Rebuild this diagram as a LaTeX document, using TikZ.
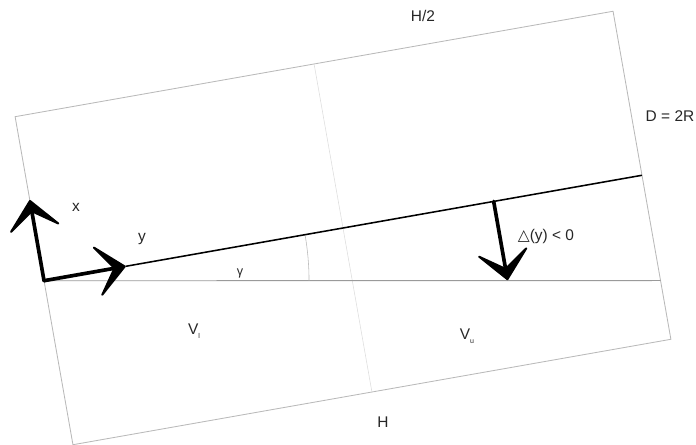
\documentclass[tikz,border=0pt]{standalone}
\usepackage{fontspec}
\setmainfont{Liberation Sans}
\newfontfamily\symfont{DejaVu Sans}
\usepackage{xcolor}
\usepackage{tikz}
\usetikzlibrary{arrows.meta,calc}

\definecolor{edgegray}{HTML}{B9B9B9}
\definecolor{paleline}{HTML}{DDDDDD}
\definecolor{flatgray}{HTML}{9A9A9A}
\definecolor{txtgray}{HTML}{262626}

\newcommand{\subsm}[1]{\raisebox{-0.55ex}{\fontsize{5}{6}\selectfont #1}}

\begin{document}
\begin{tikzpicture}[
x=0.025cm, y=0.025cm,
tube/.style={
    rectangle,
    draw=edgegray,
    line width=0.6pt,
    rotate=10,
    minimum width=15.175cm,
    minimum height=8.325cm,
    inner sep=0pt,
    outer sep=0pt
},
lbl/.style={font=\fontsize{11}{13}\selectfont, text=txtgray, inner sep=1pt},
divider/.style={draw=paleline, line width=0.4pt},
flat/.style={draw=flatgray, line width=0.6pt},
axisline/.style={line width=1.1pt},
arr/.style={-{Stealth[length=8.5mm, width=15mm, inset=5.2mm, line width=1.4pt, round]}, line width=2.6pt, line cap=round}
]
\useasboundingbox (0,0) rectangle (696,445);
\node[tube] (pipe) at (343,217) {};

\coordinate (xtip) at ($(pipe.west)+(100:82)$);
\coordinate (ytip) at ($(pipe.west)+(10:83)$);
\coordinate (hend) at ($(pipe.north east)!0.821!(pipe.south east)$);
\coordinate (dstart) at ($(pipe.west)!0.752!(pipe.east)$);
\coordinate (dtip) at ($(dstart)+(-80:80)$);

\node[lbl] (half) at (423,429) {H/2};
\node[lbl] (diam) at (670,329) {D = 2R};
\node[lbl] (full) at (383,23) {H};
\node[lbl] (xlbl) at (76,238) {x};
\node[lbl] (ylbl) at (142,206) {y};
\node[lbl, font=\fontsize{9}{11}\selectfont] (glbl) at (240,172) {γ};
\node[lbl] (dlbl) at (546,208) {{\symfont △}(y) < 0};
\node[lbl] (vlow) at (194,114) {V\subsm{l}};
\node[lbl] (vup) at (467,109) {V\subsm{u}};

\draw[divider] (pipe.north) -- (pipe.south);
\draw[flat] (pipe.west) -- (hend);
\draw[divider, draw=edgegray] ($(pipe.west)+(265,0)$) arc[start angle=0, end angle=10, radius=6.625cm];
\draw[axisline] (ytip) -- (pipe.east);

\draw[arr] (pipe.west) -- (xtip);
\draw[arr] (pipe.west) -- (ytip);
\draw[arr] (dstart) -- (dtip);
\end{tikzpicture}
\end{document}
